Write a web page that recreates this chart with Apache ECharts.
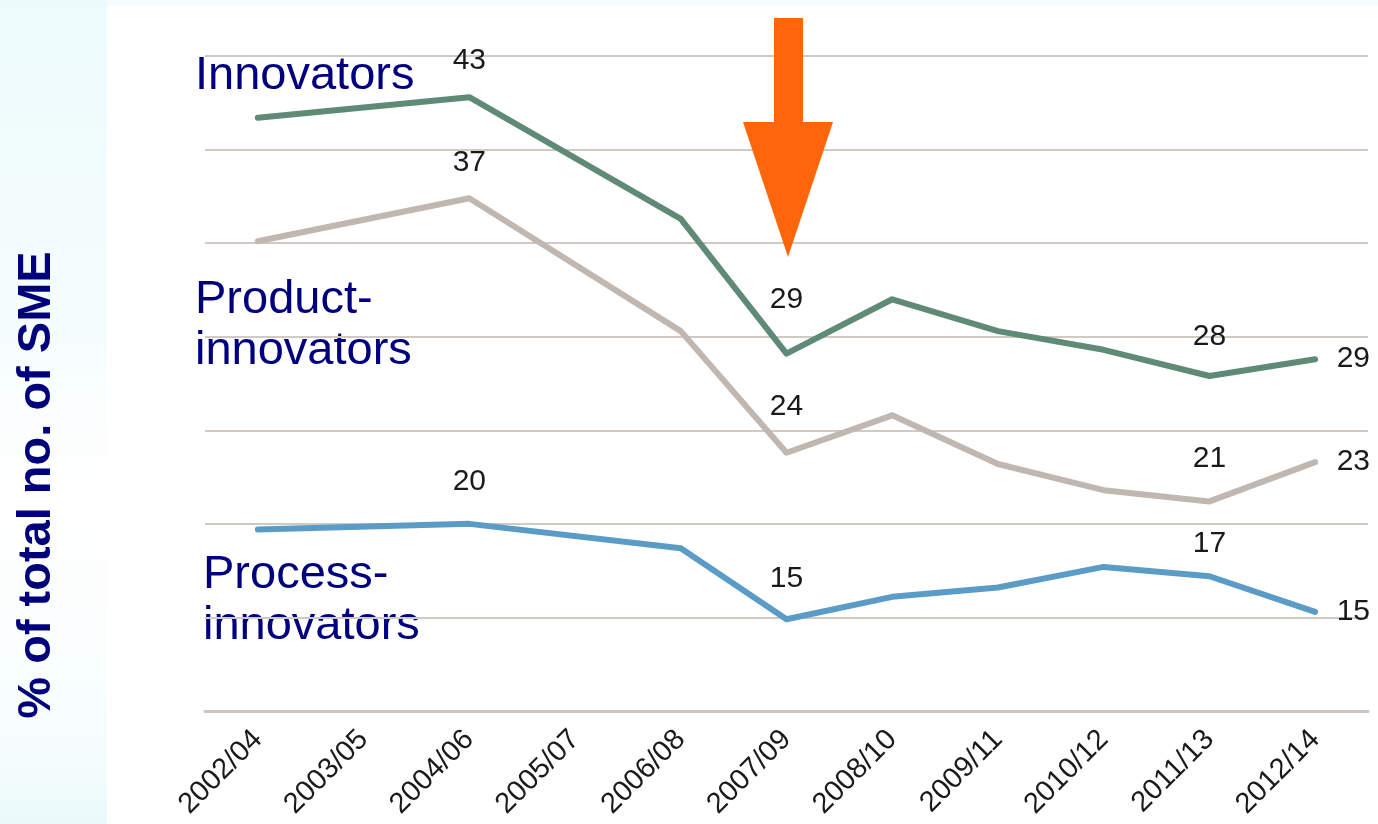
<!DOCTYPE html>
<html>
<head>
<meta charset="utf-8">
<script src="https://cdn.jsdelivr.net/npm/echarts@6/dist/echarts.min.js"></script>
<style>
  html, body { margin: 0; padding: 0; background: #ffffff; }
  #chart { width: 1378px; height: 824px; }
</style>
</head>
<body>
<div id="chart"></div>
<script>
// ---- data ----
var categories = ['2002/04', '2003/05', '2004/06', '2005/07', '2006/08', '2007/09', '2008/10', '2009/11', '2010/12', '2011/13', '2012/14'];
var innovators = [41.7, null, 42.8, null, 36.3, 29.1, 32.0, 30.3, 29.3, 27.9, 28.8];
var productInnovators = [35.1, null, 37.4, null, 30.3, 23.8, 25.8, 23.2, 21.8, 21.2, 23.3];
var processInnovators = [19.7, null, 20.0, null, 18.7, 14.9, 16.1, 16.6, 17.7, 17.2, 15.3];
// which points carry a value label: 'top', 'right' or ''
var labelledPoints = ['', '', 'top', '', '', 'top', '', '', '', 'top', 'right'];
var seriesNames = ['Innovators', 'Product-\ninnovators', 'Process-\ninnovators'];
var yTitle = '% of total no. of SME';

var FONT = '"Liberation Sans", Arial, sans-serif';

function buildData(values, topDistances) {
  return values.map(function (v, i) {
    var pos = labelledPoints[i];
    if (v === null) return null;
    if (!pos) return { value: v, label: { show: false } };
    return {
      value: v,
      label: {
        show: true,
        position: pos,
        distance: pos === 'right' ? 21 : (topDistances[i] || 22)
      }
    };
  });
}

function lineSeries(name, values, color, dist) {
  return {
    name: name,
    type: 'line',
    data: buildData(values, dist),
    connectNulls: true,
    symbol: 'circle',
    symbolSize: 1,
    showSymbol: true,
    showAllSymbol: true,
    itemStyle: { color: 'rgba(0,0,0,0)', borderWidth: 0 },
    lineStyle: { color: color, width: 6, cap: 'round', join: 'round' },
    label: {
      color: '#1a1a1a', fontSize: 30, fontFamily: FONT,
      formatter: function (p) { return String(Math.round(p.value)); }
    },
    emphasis: { disabled: true },
    z: 3
  };
}

var chart = echarts.init(document.getElementById('chart'), null, { renderer: 'canvas' });

var option = {
  backgroundColor: '#ffffff',
  animation: false,
  grid: { left: 205, right: 10, top: 56, bottom: 113, containLabel: false },
  xAxis: {
    type: 'category',
    data: categories,
    boundaryGap: true,
    axisLine: { show: true, lineStyle: { color: '#cbc6c0', width: 3 } },
    axisTick: { show: false },
    axisLabel: {
      rotate: 45,
      margin: 24,
      interval: 0,
      color: '#1a1a1a',
      fontSize: 29,
      fontFamily: FONT
    },
    splitLine: { show: false }
  },
  yAxis: {
    type: 'value',
    min: 10,
    max: 45,
    interval: 5,
    axisLine: { show: false },
    axisTick: { show: false },
    axisLabel: { show: false },
    splitLine: { show: true, lineStyle: { color: '#cfcac4', width: 2 } }
  },
  series: [
    lineSeries(seriesNames[0], innovators, '#5e8a76', { 2: 21, 5: 38, 9: 24 }),
    lineSeries(seriesNames[1], productInnovators, '#bfb7b0', { 2: 20, 5: 31, 9: 27 }),
    lineSeries(seriesNames[2], processInnovators, '#5b9cc7', { 2: 27, 5: 25, 9: 17 })
  ],
  graphic: [
    // pale background strips on the left / top
    {
      type: 'rect', silent: true, z: -10,
      shape: { x: 0, y: 0, width: 107, height: 824 },
      style: {
        fill: new echarts.graphic.LinearGradient(0, 0, 0, 1, [
          { offset: 0, color: '#edfbfc' },
          { offset: 0.4, color: '#f6fdfd' },
          { offset: 0.6, color: '#ffffff' },
          { offset: 0.92, color: '#f6fdfd' },
          { offset: 1, color: '#e9f9fa' }
        ])
      }
    },
    {
      type: 'rect', silent: true, z: -10,
      shape: { x: 107, y: 0, width: 1271, height: 6 },
      style: { fill: '#f4fcfc' }
    },
    // y axis title
    {
      type: 'text', silent: true,
      x: 37, y: 485, rotation: Math.PI / 2,
      style: {
        text: yTitle,
        font: 'bold 47px ' + FONT,
        fill: '#00007a',
        align: 'center',
        verticalAlign: 'middle'
      }
    },
    // series labels
    {
      type: 'text', silent: true, x: 195, y: 76,
      style: { text: seriesNames[0], font: '47px ' + FONT, fill: '#00007f', align: 'left', verticalAlign: 'middle' }
    },
    {
      type: 'text', silent: true, x: 195, y: 326,
      style: { text: seriesNames[1], font: '47px ' + FONT, lineHeight: 51, fill: '#00007f', align: 'left', verticalAlign: 'middle' }
    },
    {
      type: 'text', silent: true, x: 203, y: 601,
      style: { text: seriesNames[2], font: '47px ' + FONT, lineHeight: 51, fill: '#00007f', align: 'left', verticalAlign: 'middle' }
    },
    // orange arrow
    {
      type: 'polygon', silent: true, z: 10,
      shape: {
        points: [[774, 18], [803, 18], [803, 122], [833, 122], [788, 257], [743, 122], [774, 122]]
      },
      style: { fill: '#ff650b' }
    }
  ]
};

chart.setOption(option);
</script>
</body>
</html>
